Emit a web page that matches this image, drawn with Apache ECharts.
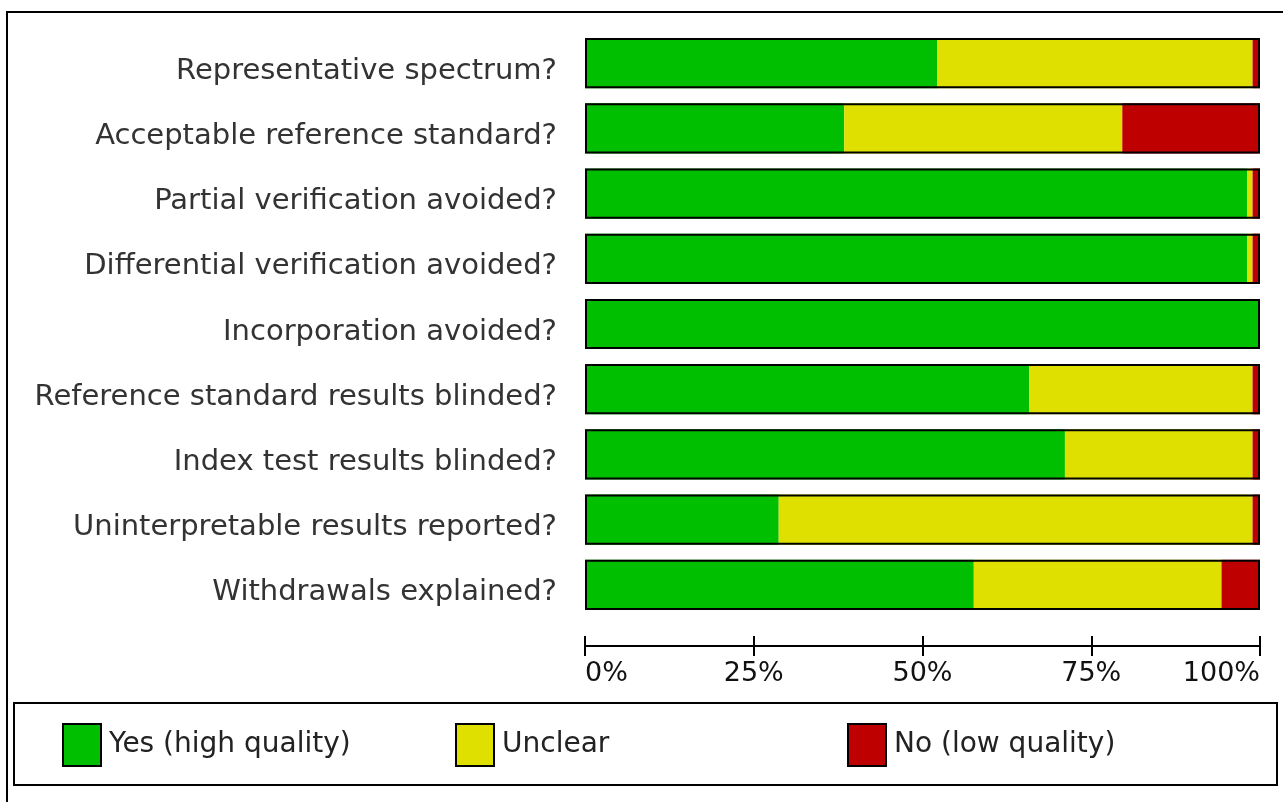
<!DOCTYPE html>
<html>
<head>
<meta charset="utf-8">
<script src="https://cdn.jsdelivr.net/npm/echarts@6/dist/echarts.min.js"></script>
<style>
html,body{margin:0;padding:0;background:#fff;}
#chart{width:1283px;height:802px;}
</style>
</head>
<body>
<div id="chart"></div>
<script>
const categories = [
  "Representative spectrum?",
  "Acceptable reference standard?",
  "Partial verification avoided?",
  "Differential verification avoided?",
  "Incorporation avoided?",
  "Reference standard results blinded?",
  "Index test results blinded?",
  "Uninterpretable results reported?",
  "Withdrawals explained?"
];
const yesValues     = [52.2, 38.4, 98.1, 98.1, 100, 65.8, 71.1, 28.7, 57.6];
const unclearValues = [46.7, 41.2,  0.8,  0.8,   0, 33.1, 27.8, 70.2, 36.7];
const noValues      = [ 1.1, 20.4,  1.1,  1.1,   0,  1.1,  1.1,  1.1,  5.7];
const tickLabels = ["0%", "25%", "50%", "75%", "100%"];
const seriesNames = ["Yes (high quality)", "Unclear", "No (low quality)"];

const totals = categories.map((c, i) => yesValues[i] + unclearValues[i] + noValues[i]);

const FONT = "DejaVu Sans";
const colors = ["#00bf00", "#e0e000", "#bf0000"];

const chart = echarts.init(document.getElementById('chart'), null, {renderer: 'canvas'});

const legendLefts = [57, 450, 842];

const option = {
  animation: false,
  backgroundColor: '#ffffff',
  grid: {left: 585, right: 23, top: 30.5, height: 587},
  xAxis: [
    {
      type: 'value', min: 0, max: 100, interval: 25,
      position: 'bottom', offset: 28.5,
      axisLine: {show: true, lineStyle: {color: '#000', width: 2}},
      axisTick: {show: true, length: 10, lineStyle: {color: '#000', width: 2}},
      splitLine: {show: false},
      axisLabel: {
        formatter: v => tickLabels[Math.round(v / 25)],
        color: '#111', fontFamily: FONT, fontSize: 27, margin: 14,
        alignMinLabel: 'left', alignMaxLabel: 'right'
      }
    },
    {
      type: 'value', min: 0, max: 100, interval: 25,
      position: 'bottom', offset: 28.5,
      axisLine: {show: false},
      axisTick: {show: true, inside: true, length: 10, lineStyle: {color: '#000', width: 2}},
      splitLine: {show: false},
      axisLabel: {show: false}
    }
  ],
  yAxis: {
    type: 'category', data: categories, inverse: true,
    axisLine: {show: false}, axisTick: {show: false},
    axisLabel: {
      margin: 28,
      formatter: v => '{a|' + v + '}',
      rich: {a: {color: '#333', fontFamily: FONT, fontSize: 29, padding: [16, 0, 0, 0]}}
    }
  },
  legend: seriesNames.map((n, i) => ({
    data: [n], left: legendLefts[i], top: 718,
    icon: 'rect', itemWidth: 38, itemHeight: 42,
    itemStyle: {borderColor: '#000', borderWidth: 2},
    textStyle: {color: '#222', fontFamily: FONT, fontSize: 28, padding: [3, 0, 0, 3]},
    selectedMode: false
  })),
  series: [
    {name: seriesNames[0], type: 'bar', stack: 'q', data: yesValues, barWidth: '77%', itemStyle: {color: colors[0]}},
    {name: seriesNames[1], type: 'bar', stack: 'q', data: unclearValues, barWidth: '77%', itemStyle: {color: colors[1]}},
    {name: seriesNames[2], type: 'bar', stack: 'q', data: noValues, barWidth: '77%', itemStyle: {color: colors[2]}},
    {name: 'outline', type: 'bar', data: totals, barWidth: '77%', barGap: '-100%', z: 5,
     itemStyle: {color: 'rgba(0,0,0,0)', borderColor: '#000', borderWidth: 2}, silent: true}
  ],
  graphic: [
    {type: 'rect', shape: {x: 7, y: 12, width: 1300, height: 820}, style: {fill: null, stroke: '#000', lineWidth: 2}, z: 10},
    {type: 'rect', shape: {x: 14, y: 703, width: 1263, height: 82}, style: {fill: null, stroke: '#000', lineWidth: 2}, z: 10}
  ]
};
chart.setOption(option);
</script>
</body>
</html>
